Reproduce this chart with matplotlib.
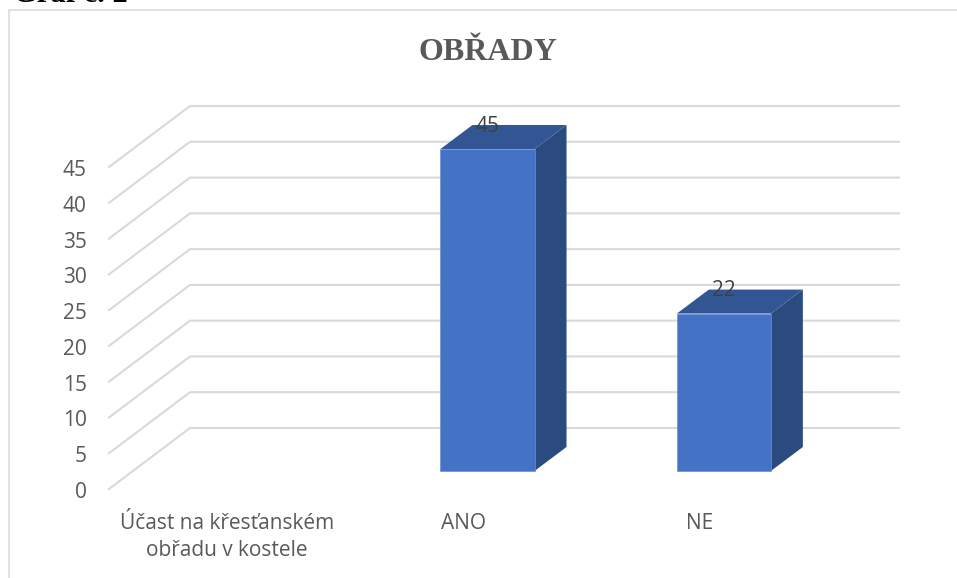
import matplotlib
matplotlib.use("Agg")
import matplotlib.pyplot as plt
from matplotlib.patches import Rectangle
from matplotlib.transforms import ScaledTranslation

# Chart values
categories = ["Účast na křesťanském\nobřadu v kostele", "ANO", "NE"]
values = [0, 45, 22]
shown = [None, 45, 22]
yticks = [0, 5, 10, 15, 20, 25, 30, 35, 40, 45]

W, H = 957, 578
fig = plt.figure(figsize=(W/100, H/100), dpi=100)

# front plane of the fake 3D box, in pixels
left, right, top, bottom = 109, 818, 167, 489
ax = fig.add_axes([left/W, 1-bottom/H, (right-left)/W, (bottom-top)/H])
ax.set_xlim(-0.5, 2.5)
ax.set_ylim(0, 45)
for s in ax.spines.values():
    s.set_visible(False)

# depth offsets in data units
wall_dx, wall_dy = 81/236.3, 61/7.155
gap_dx, gap_dy = 24/236.3, 18/7.155
bar_dx, bar_dy = 32/236.3, 24/7.155
bar_w = 94/236.3

# gridlines: floor/side wall part then back wall
for v in yticks:
    ax.plot([-0.5, -0.5+wall_dx, 2.5+wall_dx], [v, v+wall_dy, v+wall_dy],
            color="#D9D9D9", lw=1.5, clip_on=False, zorder=1)

# bars with side and top faces
for i, v in enumerate(values):
    if v == 0:
        continue
    x0 = i + gap_dx - bar_w/2
    x1 = x0 + bar_w
    y0 = gap_dy
    y1 = gap_dy + v
    ax.bar(x0 + bar_w/2, v, bar_w, bottom=y0, color="#4472C4", edgecolor="#6A8FD3",
           linewidth=0.5, zorder=3, clip_on=False)
    ax.fill([x1, x1+bar_dx, x1+bar_dx, x1], [y0, y0+bar_dy, y1+bar_dy, y1],
            color="#2A4A80", lw=0, zorder=2, clip_on=False)
    ax.fill([x0, x1, x1+bar_dx, x0+bar_dx], [y1, y1, y1+bar_dy, y1+bar_dy],
            color="#325694", lw=0, zorder=2, clip_on=False)
    ax.annotate(str(shown[i]), (x0 + bar_w/2, y1), xytext=(0, 16.5), textcoords="offset points",
                ha="center", va="center", fontsize=15, family="Open Sans", color="#404040",
                zorder=5, annotation_clip=False)

ax.set_yticks(yticks)
ax.set_xticks(range(3))
ax.set_xticklabels(categories, linespacing=1.35)
ax.tick_params(axis="both", length=0, labelcolor="#595959", labelsize=15)
ax.tick_params(axis="y", pad=16)
ax.tick_params(axis="x", pad=17.5)
for t in ax.get_xticklabels() + ax.get_yticklabels():
    t.set_family("Open Sans")
# nudge y labels down a pixel
nudge = ScaledTranslation(0, -1/100, fig.dpi_scale_trans)
for t in ax.get_yticklabels():
    t.set_transform(t.get_transform() + nudge)

# title and the clipped caption above the chart
fig.text(488/W, 1-52/H, "OBŘADY", ha="center", va="center", fontsize=23, fontweight="bold",
         family="Liberation Serif", color="#595959")
fig.text(13/W, 1-2.5/H, "Graf č. 2", ha="left", va="baseline", fontsize=22, fontweight="bold",
         family="Liberation Serif", color="black")

# chart border
fig.add_artist(Rectangle((9/W, -0.05), 1.2, 1-10/H+0.05, transform=fig.transFigure,
                         fill=False, edgecolor="#D9D9D9", lw=1.1))

fig.savefig("out.png", dpi=100)
